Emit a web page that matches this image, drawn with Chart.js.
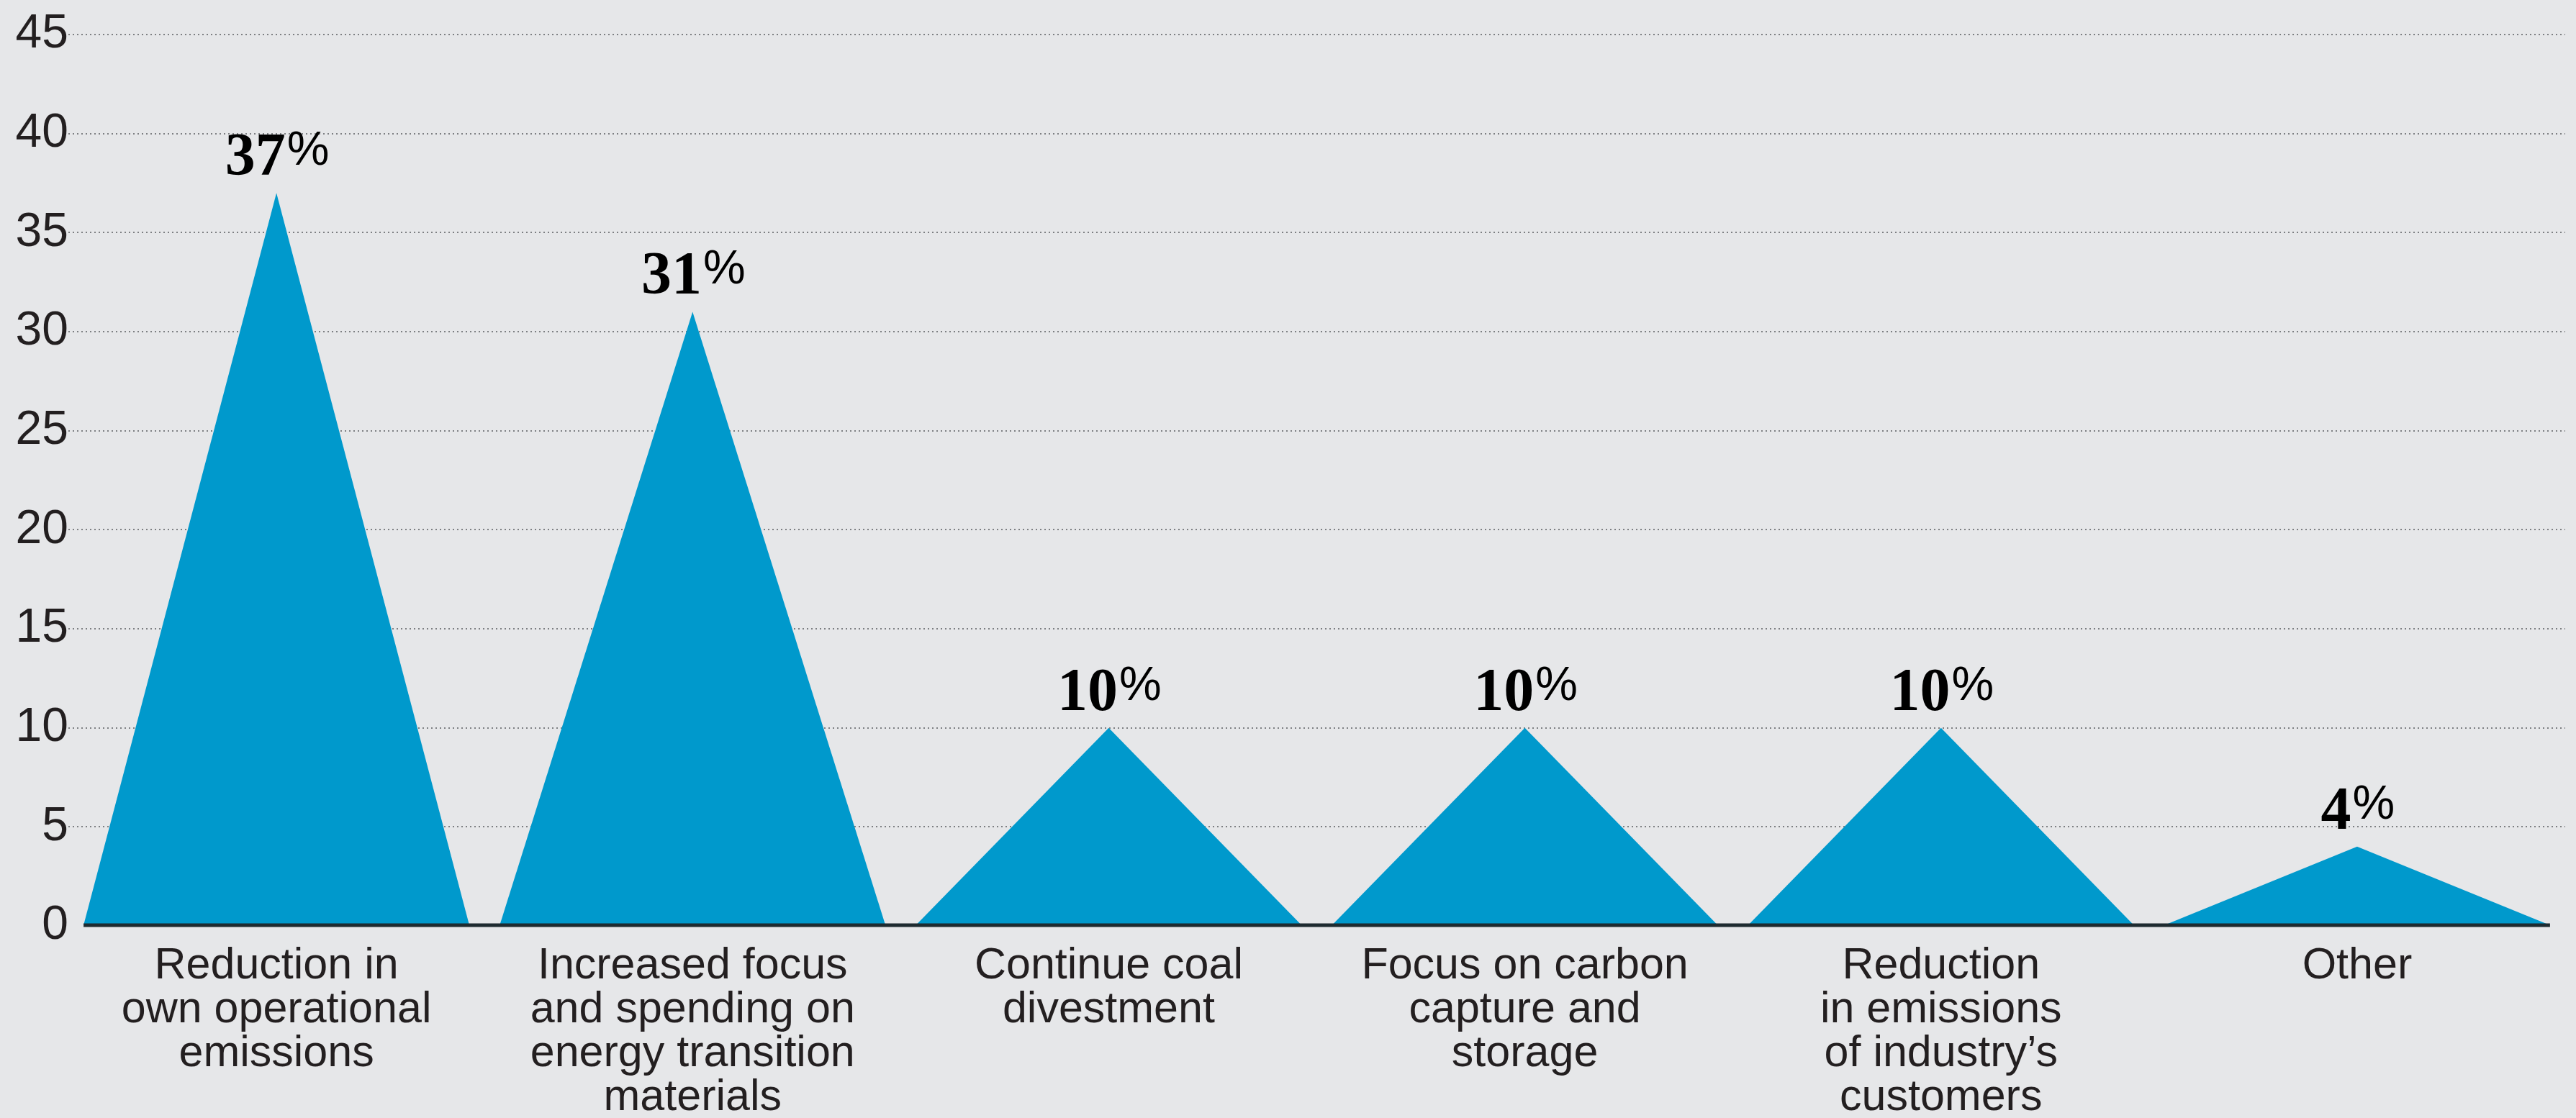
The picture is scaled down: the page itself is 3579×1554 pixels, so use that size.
<!DOCTYPE html>
<html>
<head>
<meta charset="utf-8">
<script src="https://cdn.jsdelivr.net/npm/chart.js@4.4.1/dist/chart.umd.min.js"></script>
<style>
  html, body { margin: 0; padding: 0; background: #e6e7e9; }
  #wrap { width: 3579px; height: 1554px; }
</style>
</head>
<body>
<div id="wrap"><canvas id="myChart"></canvas></div>
<script>
const categories = [
  ["Reduction in", "own operational", "emissions"],
  ["Increased focus", "and spending on", "energy transition", "materials"],
  ["Continue coal", "divestment"],
  ["Focus on carbon", "capture and", "storage"],
  ["Reduction", "in emissions", "of industry\u2019s", "customers"],
  ["Other"]
];
const shares = [37, 31, 10, 10, 10, 4];
const yTicks = [0, 5, 10, 15, 20, 25, 30, 35, 40, 45];

const textColor = "#231f20";
const blue = "#0099cc";
const sans = "'Liberation Sans', Arial, sans-serif";

// bars are drawn as triangles, plus the dark baseline and the value labels
const triangles = {
  id: "triangles",
  afterDatasetsDraw(chart) {
    const ctx = chart.ctx;
    const meta = chart.getDatasetMeta(0);
    ctx.save();
    ctx.fillStyle = blue;
    meta.data.forEach(bar => {
      const p = bar.getProps(["x", "y", "base", "width"], true);
      ctx.beginPath();
      ctx.moveTo(p.x - p.width / 2, p.base);
      ctx.lineTo(p.x, p.y);
      ctx.lineTo(p.x + p.width / 2, p.base);
      ctx.closePath();
      ctx.fill();
    });

    const first = meta.data[0];
    const last = meta.data[meta.data.length - 1];
    ctx.strokeStyle = "#1e2b30";
    ctx.lineWidth = 5;
    ctx.beginPath();
    ctx.moveTo(first.x - first.width / 2, first.base);
    ctx.lineTo(last.x + last.width / 2, last.base);
    ctx.stroke();

    ctx.fillStyle = "#000";
    ctx.textBaseline = "alphabetic";
    ctx.textAlign = "left";
    const numFont = "bold 84px 'Liberation Serif', serif";
    const pctFont = "66px " + sans;
    meta.data.forEach((bar, i) => {
      const num = String(shares[i]);
      ctx.font = numFont;
      const wn = ctx.measureText(num).width;
      ctx.font = pctFont;
      const wp = ctx.measureText("%").width;
      const x0 = bar.x - (wn + wp) / 2;
      const yb = bar.y - 25;
      ctx.font = numFont;
      ctx.fillText(num, x0, yb);
      ctx.font = pctFont;
      ctx.fillText("%", x0 + wn + 2, yb - 14);
    });
    ctx.restore();
  }
};

const ctx = document.getElementById("myChart");

new Chart(ctx, {
  type: "bar",
  data: {
    labels: categories,
    datasets: [
      {
        label: "share",
        data: shares,
        backgroundColor: "rgba(0,0,0,0)",
        borderWidth: 0,
        categoryPercentage: 1,
        barPercentage: 0.927,
      },
    ],
  },
  options: {
    responsive: true,
    maintainAspectRatio: false,
    devicePixelRatio: 1,
    animation: false,
    layout: { padding: { top: 48, right: 15, bottom: 0, left: 0 } },
    plugins: {
      legend: { display: false },
      tooltip: { enabled: false },
    },
    scales: {
      x: {
        grid: { display: false },
        border: { display: false },
        ticks: {
          autoSkip: false,
          maxRotation: 0,
          padding: 18,
          color: textColor,
          font: { family: sans, size: 61, lineHeight: 1.0 },
        },
        afterFit(scale) { scale.height = 267; },
      },
      y: {
        min: 0,
        max: 45,
        border: { display: false, dash: [2, 4] },
        grid: {
          drawTicks: false,
          lineWidth: 2,
          color: c => (c.tick && c.tick.value === 0 ? "rgba(0,0,0,0)" : "#7d7f82"),
        },
        ticks: {
          padding: 0,
          color: textColor,
          font: { family: sans, size: 66 },
        },
        afterBuildTicks(scale) { scale.ticks = yTicks.map(v => ({ value: v })); },
        afterFit(scale) { scale.width = 95; },
      },
    },
  },
  plugins: [triangles],
});
</script>
</body>
</html>
